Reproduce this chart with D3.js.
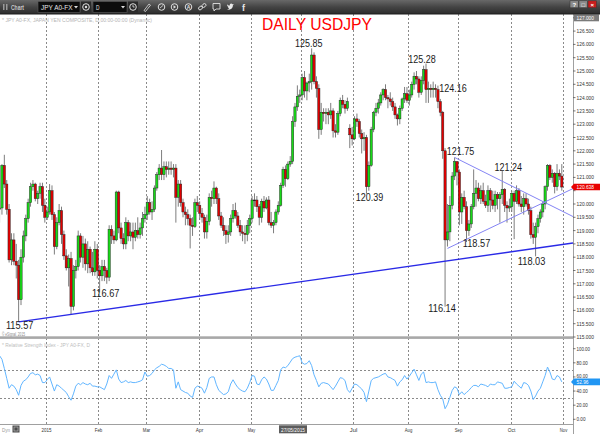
<!DOCTYPE html>
<html>
<head>
<meta charset="utf-8">
<script src="https://cdn.jsdelivr.net/npm/d3@7"></script>
<style>
  body { margin: 0; background: #fff; }
  svg { display: block; font-family: "Liberation Sans", Arial, sans-serif; }
</style>
</head>
<body>
<div id="chart"></div>
<script>
// trading days shown on the chart: Dec 3 2014 .. Oct 30 2015 (fx feed, weekdays only)
const dates = d3.timeDay.range(new Date(2014, 11, 3), new Date(2015, 9, 31))
  .filter(d => d.getDay() !== 0 && d.getDay() !== 6);

// daily USDJPY candles, grouped by month (Dec 2014 .. Oct 2015)
const opens = [
  119.2, 119.8, 119.85, 121.45, 120.75, 119.8, 117.9, 118.65, 117.85, 117.7, 116.4, 118.0, 118.8, 119.45, 120.05, 120.65, 120.75, 120.2, 120.4, 120.65, 119.95,
  119.5, 119.7, 120.5, 119.6, 118.4, 119.3, 119.75, 118.85, 118.05, 117.6, 117.95, 116.15, 117.5, 117.65, 118.8, 118.0, 118.5, 117.75, 118.3, 117.6, 117.45, 118.3,
  117.5, 117.3, 117.65, 117.5, 117.25, 119.05, 118.8, 118.65, 120.45, 119.1, 118.7, 118.5, 119.3, 118.8, 118.95, 118.75, 119.0, 118.85, 119.1, 119.45,
  119.6, 120.05, 119.7, 119.8, 120.6, 121.1, 121.35, 121.1, 121.4, 121.3, 121.35, 121.3, 121.35, 120.25, 120.75, 120.05, 119.7, 119.6, 119.45, 119.2, 119.15, 120.05,
  119.95, 119.65, 119.5, 118.95, 119.35, 120.25, 120.2, 120.6, 120.2, 119.55, 119.2, 119.0, 118.85, 118.95, 119.45, 119.75, 119.55, 119.2, 118.95, 118.9, 118.85, 119.2,
  119.45, 120.15, 120.15, 119.9, 119.5, 120.1, 119.85, 120.15, 119.3, 119.2, 119.3, 119.7, 119.95, 120.7, 121.3, 120.95, 121.5, 121.6, 123.1, 123.65, 124.05,
  124.1, 124.75, 124.25, 124.55, 124.6, 125.6, 124.6, 124.35, 122.8, 123.45, 123.4, 123.45, 123.35, 123.5, 122.75, 122.7, 123.4, 123.9, 123.75, 123.6, 122.85, 122.6,
  122.45, 123.2, 123.1, 122.65, 122.45, 122.5, 120.65, 121.45, 122.8, 123.45, 123.6, 123.8, 124.1, 124.3, 124.0, 123.95, 123.85, 123.65, 123.35, 123.2, 123.6, 123.95, 124.15,
  123.9, 124.1, 124.5, 124.8, 124.7, 124.2, 124.65, 125.05, 124.3, 124.35, 124.3, 124.35, 124.3, 123.85, 123.45, 122.0, 118.65, 118.95, 119.95, 121.05, 121.6,
  121.2, 119.7, 120.25, 119.9, 119.0, 119.25, 119.9, 120.4, 120.6, 120.2, 120.5, 120.1, 119.95, 120.5, 120.15, 119.95, 120.35, 120.2, 120.35, 120.55, 119.95, 119.85,
  119.9, 120.4, 120.1, 120.5, 120.0, 119.9, 120.2, 120.0, 119.75, 118.85, 118.75, 119.15, 119.45, 119.7, 120.0, 120.65, 121.45, 121.0, 121.15, 120.65, 121.15, 121.05
];
const highs = [
  120.0, 120.1, 121.5, 121.85, 120.9, 120.0, 118.9, 118.9, 118.5, 117.9, 118.3, 119.0, 119.6, 120.2, 120.8, 120.9, 120.8, 120.5, 120.8, 120.8, 120.2,
  119.9, 120.75, 120.7, 119.7, 119.5, 120.0, 119.9, 119.0, 118.3, 118.1, 118.2, 117.7, 117.9, 119.0, 118.9, 118.8, 118.7, 118.6, 118.4, 118.2, 118.6, 118.5,
  117.7, 117.9, 117.9, 117.6, 119.2, 119.2, 119.0, 120.5, 120.5, 119.3, 118.9, 119.5, 119.4, 119.3, 119.3, 119.3, 119.5, 119.3, 119.7, 119.9,
  120.3, 120.2, 120.1, 120.7, 121.2, 121.5, 122.03, 121.6, 121.6, 121.6, 121.6, 121.5, 121.5, 120.9, 120.9, 120.2, 119.9, 119.8, 119.6, 119.5, 120.2, 120.3,
  120.1, 119.85, 119.6, 119.6, 120.4, 120.5, 120.85, 120.65, 120.4, 119.7, 119.5, 119.2, 119.2, 119.6, 120.0, 120.05, 119.7, 119.4, 119.2, 119.2, 119.4, 119.6,
  120.3, 120.4, 120.3, 120.0, 120.2, 120.3, 120.25, 120.3, 119.7, 119.4, 119.8, 120.1, 120.8, 121.4, 121.45, 121.6, 121.8, 123.3, 123.8, 124.46, 124.3,
  124.9, 125.0, 124.6, 124.9, 125.85, 125.7, 124.8, 124.5, 123.8, 123.6, 123.6, 123.6, 123.8, 123.6, 123.0, 123.5, 124.0, 124.1, 123.9, 124.0, 123.0, 122.9,
  123.3, 123.4, 123.2, 122.8, 122.7, 122.6, 121.6, 122.9, 123.5, 123.8, 123.95, 124.2, 124.35, 124.5, 124.1, 124.2, 124.0, 123.8, 123.4, 123.7, 124.0, 124.4, 124.4,
  124.3, 124.6, 124.95, 125.0, 124.8, 124.8, 125.2, 125.28, 124.6, 124.5, 124.6, 124.5, 124.45, 123.95, 123.5, 122.1, 120.0, 120.3, 121.2, 121.75, 121.6,
  121.3, 120.4, 120.5, 120.1, 119.4, 120.0, 121.3, 120.9, 120.8, 120.7, 120.8, 120.35, 120.7, 120.6, 120.5, 120.5, 120.45, 120.45, 121.24, 120.6, 120.1, 120.2,
  120.5, 120.5, 120.7, 120.6, 120.3, 120.4, 120.4, 120.2, 119.9, 119.3, 119.3, 119.6, 119.8, 120.1, 120.7, 121.5, 121.5, 121.3, 121.2, 121.5, 121.3, 121.5
];
const lows = [
  118.9, 119.3, 119.6, 120.6, 119.6, 117.8, 117.7, 117.7, 117.2, 115.57, 116.2, 117.8, 118.6, 119.3, 119.9, 120.5, 120.1, 120.0, 120.2, 119.7, 119.3,
  119.4, 119.6, 119.4, 118.1, 118.3, 119.2, 118.5, 117.9, 117.5, 116.9, 115.86, 116.0, 117.2, 117.5, 117.8, 117.6, 117.5, 117.4, 117.4, 117.3, 117.3, 117.2,
  116.67, 117.1, 117.1, 117.0, 117.1, 118.5, 118.5, 118.6, 118.9, 118.5, 118.3, 118.3, 118.6, 118.6, 118.3, 118.6, 118.7, 118.7, 118.8, 119.3,
  119.4, 119.6, 119.4, 119.7, 120.5, 120.9, 120.9, 120.9, 121.0, 121.1, 121.1, 121.0, 119.3, 119.9, 119.9, 119.5, 119.2, 119.2, 118.33, 118.8, 119.1, 119.7,
  119.4, 119.3, 118.7, 118.7, 119.2, 119.9, 120.0, 120.0, 119.4, 119.1, 118.8, 118.5, 118.55, 118.8, 119.3, 119.45, 119.1, 118.8, 118.6, 118.5, 118.6, 118.9,
  119.3, 119.9, 119.7, 119.2, 119.3, 119.7, 119.8, 119.2, 119.1, 118.9, 119.2, 119.6, 119.9, 120.6, 120.65, 120.9, 121.4, 121.5, 122.9, 123.5, 123.8,
  123.9, 124.0, 123.9, 124.2, 124.3, 124.5, 124.0, 122.45, 122.6, 123.1, 123.0, 123.0, 123.2, 122.5, 122.5, 122.6, 123.3, 123.6, 123.4, 123.5, 122.1, 122.2,
  122.4, 122.9, 122.5, 121.9, 122.0, 120.39, 120.5, 121.4, 122.7, 123.3, 123.4, 123.7, 123.9, 123.9, 123.6, 123.7, 123.5, 123.2, 122.95, 123.0, 123.5, 123.8, 123.8,
  123.7, 124.0, 124.3, 124.5, 124.0, 124.1, 124.5, 123.8, 123.8, 124.0, 124.0, 124.0, 123.6, 123.3, 121.7, 116.14, 118.4, 118.6, 119.8, 120.9, 120.7,
  119.2, 119.25, 119.8, 118.57, 118.8, 119.1, 119.8, 119.9, 120.1, 120.0, 120.0, 119.85, 119.7, 119.7, 119.8, 119.7, 119.8, 119.3, 120.0, 119.7, 119.3, 119.7,
  119.7, 118.68, 120.0, 119.9, 119.7, 119.6, 119.9, 119.6, 118.7, 118.5, 118.03, 118.9, 119.3, 119.5, 119.8, 120.5, 120.9, 120.8, 120.4, 120.5, 120.9, 120.5
];
const closes = [
  119.8, 119.85, 121.45, 120.75, 119.8, 117.9, 118.65, 117.85, 117.7, 116.4, 118.0, 118.8, 119.45, 120.05, 120.65, 120.75, 120.2, 120.4, 120.65, 119.95, 119.5,
  119.7, 120.5, 119.6, 118.4, 119.3, 119.75, 118.85, 118.05, 117.6, 117.95, 116.15, 117.5, 117.65, 118.8, 118.0, 118.5, 117.75, 118.3, 117.6, 117.45, 118.3, 117.5,
  117.3, 117.65, 117.5, 117.25, 119.05, 118.8, 118.65, 120.45, 119.1, 118.7, 118.5, 119.3, 118.8, 118.95, 118.75, 119.0, 118.85, 119.1, 119.45, 119.6,
  120.05, 119.7, 119.8, 120.6, 121.1, 121.35, 121.1, 121.4, 121.3, 121.35, 121.3, 121.35, 120.25, 120.75, 120.05, 119.7, 119.6, 119.45, 119.2, 119.15, 120.05, 119.95,
  119.65, 119.5, 118.95, 119.35, 120.25, 120.2, 120.6, 120.2, 119.55, 119.2, 119.0, 118.85, 118.95, 119.45, 119.75, 119.55, 119.2, 118.95, 118.9, 118.85, 119.2, 119.45,
  120.15, 120.15, 119.9, 119.5, 120.1, 119.85, 120.15, 119.3, 119.2, 119.3, 119.7, 119.95, 120.7, 121.3, 120.95, 121.5, 121.6, 123.1, 123.65, 124.05, 124.1,
  124.75, 124.25, 124.55, 124.6, 125.6, 124.6, 124.35, 122.8, 123.45, 123.4, 123.45, 123.35, 123.5, 122.75, 122.7, 123.4, 123.9, 123.75, 123.6, 123.85, 122.6, 122.45,
  123.2, 123.1, 122.65, 122.45, 122.5, 120.65, 121.45, 122.8, 123.45, 123.6, 123.8, 124.1, 124.3, 124.0, 123.95, 123.85, 123.65, 123.35, 123.2, 123.6, 123.95, 124.15, 123.9,
  124.1, 124.5, 124.8, 124.7, 124.2, 124.65, 125.05, 124.3, 124.35, 124.3, 124.35, 124.3, 123.85, 123.45, 122.0, 118.65, 118.95, 119.95, 121.05, 121.6, 121.2,
  119.7, 120.25, 119.9, 119.0, 119.25, 119.9, 120.4, 120.6, 120.2, 120.5, 120.1, 119.95, 120.5, 120.15, 119.95, 120.35, 120.2, 120.35, 120.55, 119.95, 119.85, 119.9,
  120.4, 120.1, 120.5, 120.0, 119.9, 120.2, 120.0, 119.75, 118.85, 118.75, 119.15, 119.45, 119.7, 120.0, 120.65, 121.45, 121.0, 121.15, 120.65, 121.15, 121.05, 120.638
];

// relative strength index
const rsi = [
  90, 90, 85, 72, 58, 44, 49, 47, 42, 34, 48, 54, 56, 60, 65, 66, 63, 64, 62, 52, 52,
  56, 60, 50, 40, 49, 47, 44, 41, 38, 32, 27, 36, 47, 51, 49, 52, 50, 49, 51, 47, 47, 46,
  46, 44, 42, 50, 62, 58, 64, 70, 57, 52, 53, 55, 52, 53, 52, 52, 53, 54, 56, 67,
  61, 62, 65, 70, 73, 75, 78, 77, 75, 72, 72, 70, 44, 53, 42, 40, 38, 37, 33, 31, 44, 47,
  46, 44, 37, 45, 58, 60, 60, 49, 41, 38, 35, 36, 39, 50, 56, 50, 45, 42, 40, 39, 44, 52,
  62, 61, 50, 49, 56, 60, 57, 50, 41, 41, 48, 55, 70, 74, 73, 76, 81, 86, 88, 89, 90,
  80, 78, 79, 83, 76, 63, 55, 46, 51, 52, 51, 50, 46, 42, 47, 53, 59, 58, 55, 42, 38, 44,
  50, 49, 46, 43, 38, 25, 40, 55, 58, 59, 60, 62, 64, 65, 60, 59, 57, 55, 47, 53, 56, 62, 57,
  61, 66, 71, 63, 55, 64, 67, 52, 53, 52, 52, 53, 42, 34, 29, 15, 21, 31, 41, 46, 44,
  35, 39, 35, 38, 41, 45, 48, 48, 46, 50, 49, 48, 46, 50, 49, 49, 53, 52, 51, 44, 44, 45,
  46, 54, 50, 47, 44, 52, 51, 48, 40, 28, 33, 40, 44, 53, 62, 74, 67, 57, 56, 62, 60, 52.96
];

const priceTicks = d3.range(115, 127.001, 0.5);
const rsiTicks = [0, 20, 40, 60, 80, 100];
const rsiBands = [70, 30];
const monthNames = ["2015", "Feb", "Mar", "Apr", "May", "Jun", "Jul", "Aug", "Sep", "Oct", "Nov"];
const cursorDate = "27/05/2015";

// labelled swing points: [date, price]
const swings = [
  ["2014-12-16", 115.57], ["2015-02-02", 116.67], ["2015-06-05", 125.85],
  ["2015-07-08", 120.39], ["2015-08-12", 125.28], ["2015-08-19", 124.16],
  ["2015-08-24", 116.14], ["2015-08-28", 121.75], ["2015-09-04", 118.57],
  ["2015-09-25", 121.24], ["2015-10-15", 118.03]
];

// trend lines through two anchors [date, price], extended to the right edge
const trendLines = [
  [["2014-12-16", 115.57], ["2015-08-24", 117.85]],
  [["2015-08-28", 121.75], ["2015-10-15", 120.23]],
  [["2015-08-25", 118.33], ["2015-10-15", 119.91]]
];

// ============================================================
const W = 600, H = 434;
const axisX = 573;
const N = dates.length;
const fmtDay = d3.timeFormat("%Y-%m-%d");
const dayIndex = new Map(dates.map((d, i) => [fmtDay(d), i]));

const x = d3.scaleLinear().domain([0, N]).range([-4, 563]);
const y = d3.scaleLinear().domain([115, 127]).range([337, 17.8]);
const yr = d3.scaleLinear().domain([0, 100]).range([419.3, 348.7]);
const cx = i => x(i + 0.5);

const svg = d3.select("#chart").append("svg")
  .attr("width", W).attr("height", H);

const defs = svg.append("defs");
const tb = defs.append("linearGradient").attr("id", "tb")
  .attr("x1", 0).attr("y1", 0).attr("x2", 0).attr("y2", 1);
tb.append("stop").attr("offset", 0).attr("stop-color", "#686868");
tb.append("stop").attr("offset", 0.5).attr("stop-color", "#444");
tb.append("stop").attr("offset", 1).attr("stop-color", "#2c2c2c");
defs.append("clipPath").attr("id", "mainClip")
  .append("rect").attr("x", 0).attr("y", 14).attr("width", axisX).attr("height", 322);
defs.append("clipPath").attr("id", "rsiClip")
  .append("rect").attr("x", 0).attr("y", 339).attr("width", axisX).attr("height", 85);

svg.append("rect").attr("width", W).attr("height", H).attr("fill", "#fff");

// tiny condensed text helper (eSignal uses a very small narrow font)
function smallText(g, str, px, py, opts = {}) {
  const t = g.append("text")
    .attr("x", px).attr("y", py)
    .attr("font-size", opts.size || 5.6)
    .attr("fill", opts.fill || "#333")
    .attr("text-anchor", opts.anchor || "start")
    .text(str);
  if (opts.len) t.attr("textLength", opts.len).attr("lengthAdjust", "spacingAndGlyphs");
  if (opts.weight) t.attr("font-weight", opts.weight);
  return t;
}

// ---------- grid
const monthStarts = dates.map((d, i) => (i > 0 && d.getMonth() !== dates[i - 1].getMonth()) ? i : -1)
  .filter(i => i >= 0).concat([N]);

const grid = svg.append("g");
monthStarts.forEach(b => {
  const gx = Math.round(x(b)) + 0.5;
  grid.append("line")
    .attr("x1", gx).attr("x2", gx).attr("y1", 14).attr("y2", 424)
    .attr("stroke", "#8a8a8a").attr("stroke-width", 1)
    .attr("stroke-dasharray", "2,2");
});

// ---------- header texts
smallText(svg, "* JPY A0-FX, JAPAN YEN COMPOSITE, D,00:00-00:00 (Dynamic)", 2, 22,
  { fill: "#b4b4b4", size: 5.8, len: 150 });
svg.append("text")
  .attr("x", 262).attr("y", 29.5)
  .attr("font-size", 16.5).attr("fill", "#ff0000")
  .attr("textLength", 110).attr("lengthAdjust", "spacingAndGlyphs")
  .text("DAILY USDJPY");

// ---------- candles
const main = svg.append("g").attr("clip-path", "url(#mainClip)");
const idx = d3.range(N);

main.append("g").selectAll("line").data(idx).join("line")
  .attr("x1", i => cx(i)).attr("x2", i => cx(i))
  .attr("y1", i => y(highs[i])).attr("y2", i => y(lows[i]))
  .attr("stroke", "#7d7d7d").attr("stroke-width", 1);

main.append("g").selectAll("rect").data(idx).join("rect")
  .attr("x", i => cx(i) - 1.15)
  .attr("width", 2.3)
  .attr("y", i => y(Math.max(opens[i], closes[i])))
  .attr("height", i => Math.max(0.8, Math.abs(y(opens[i]) - y(closes[i]))))
  .attr("fill", i => closes[i] > opens[i] ? "#18d818" : closes[i] < opens[i] ? "#e00000" : "#000")
  .attr("stroke", "#222").attr("stroke-width", 0.45);

// ---------- trend lines
const lineStyles = [
  { color: "#2a2ae6", width: 1.4 },
  { color: "#8484f4", width: 1 },
  { color: "#8484f4", width: 1 }
];
trendLines.forEach((tl, k) => {
  const [a, b] = tl;
  const x1 = cx(dayIndex.get(a[0])), y1 = y(a[1]);
  const x2 = cx(dayIndex.get(b[0])), y2 = y(b[1]);
  const slope = (y2 - y1) / (x2 - x1);
  main.append("line")
    .attr("x1", x1).attr("y1", y1)
    .attr("x2", axisX).attr("y2", y1 + slope * (axisX - x1))
    .attr("stroke", lineStyles[k].color)
    .attr("stroke-width", lineStyles[k].width);
});

// ---------- swing labels
const swingPlace = {
  "115.57": [1, 7.5], "116.67": [6, 4.5], "125.85": [-3, -1.5],
  "120.39": [3, 7.5], "125.28": [-4, -0.5], "124.16": [15, -1],
  "116.14": [-3, 5.5], "121.75": [6, -2.5], "118.57": [10, 5],
  "121.24": [6, 0], "118.03": [-4, 8.5]
};
main.append("g").selectAll("text").data(swings).join("text")
  .attr("x", d => cx(dayIndex.get(d[0])) + swingPlace[d[1].toFixed(2)][0])
  .attr("y", d => y(d[1]) + swingPlace[d[1].toFixed(2)][1])
  .attr("text-anchor", "middle")
  .attr("font-size", 10).attr("fill", "#1a1a1a")
  .attr("textLength", 27.5).attr("lengthAdjust", "spacingAndGlyphs")
  .text(d => d[1].toFixed(2));

smallText(svg, "\u00a9 eSignal, 2015", 2, 336, { fill: "#8a8a8a", size: 4.6, len: 23 });

// ---------- panel separator & frame
svg.append("rect").attr("x", 0).attr("y", 336.3).attr("width", axisX).attr("height", 2.6).attr("fill", "#a8a8a8");
svg.append("line").attr("x1", 0).attr("x2", axisX).attr("y1", 424.5).attr("y2", 424.5)
  .attr("stroke", "#a0a0a0");
svg.append("line").attr("x1", axisX + 0.5).attr("x2", axisX + 0.5).attr("y1", 14).attr("y2", 434)
  .attr("stroke", "#a0a0a0");

// ---------- RSI pane
smallText(svg, "* Relative Strength Index - JPY A0-FX, D", 2, 347, { fill: "#bdbdbd", size: 5.6, len: 88 });
const rsiG = svg.append("g").attr("clip-path", "url(#rsiClip)");
rsiBands.forEach(v => {
  rsiG.append("line")
    .attr("x1", 0).attr("x2", axisX)
    .attr("y1", Math.round(yr(v)) + 0.5).attr("y2", Math.round(yr(v)) + 0.5)
    .attr("stroke", "#8a8a8a").attr("stroke-dasharray", "2,2");
});
rsiG.append("path")
  .datum(idx)
  .attr("fill", "none")
  .attr("stroke", "#62b6ff").attr("stroke-width", 1)
  .attr("d", d3.line().x(i => cx(i)).y(i => yr(rsi[i])));

// ---------- right price axis
const axisG = svg.append("g");
const lastY = y(closes[N - 1]);
const lastR = yr(rsi[N - 1]);
priceTicks.forEach(p => {
  const ty = y(p);
  axisG.append("line").attr("x1", axisX).attr("x2", axisX + 2.5)
    .attr("y1", ty).attr("y2", ty).attr("stroke", "#555").attr("stroke-width", 0.8);
  if (Math.abs(ty - lastY) > 6 && p < 127) smallText(axisG, p.toFixed(3), axisX + 3.5, ty + 2, { len: 17.5 });
});
rsiTicks.forEach(v => {
  const ty = yr(v);
  axisG.append("line").attr("x1", axisX).attr("x2", axisX + 2.5)
    .attr("y1", ty).attr("y2", ty).attr("stroke", "#555").attr("stroke-width", 0.8);
  const s = v.toFixed(2);
  smallText(axisG, s, axisX + 3.5, ty + (Math.abs(ty - lastR) < 7 ? 0.6 : 2), { len: s.length * 2.25 });
});

// top axis label box
axisG.append("rect").attr("x", axisX + 1).attr("y", 14.3).attr("width", 25).attr("height", 7)
  .attr("fill", "#7a7a7a");
smallText(axisG, "127.000", axisX + 3.5, 19.8, { len: 17.5, fill: "#fff" });

// last value markers
function marker(vy, color, label, len) {
  axisG.append("path")
    .attr("d", `M${axisX - 2},${vy} L${axisX + 1},${vy - 3.3} L${W},${vy - 3.3} L${W},${vy + 3.3} L${axisX + 1},${vy + 3.3} Z`)
    .attr("fill", color);
  smallText(axisG, label, axisX + 3.5, vy + 2, { len, fill: "#fff", size: 5.2 });
}
marker(lastY, "#e80000", closes[N - 1].toFixed(3), 17.5);
marker(lastR, "#2196f3", rsi[N - 1].toFixed(2), 12);

// ---------- bottom date axis
const dateAxis = svg.append("g");
const cursorBox = [279, 307];
monthStarts.forEach((b, k) => {
  const mx = Math.round(x(b)) + 0.5;
  if (mx > cursorBox[0] - 4 && mx < cursorBox[1] + 4) return; // hidden under the cursor date box
  smallText(dateAxis, monthNames[k], mx, 431.5,
    { anchor: "middle", len: monthNames[k].length * 2.5 });
});
smallText(dateAxis, "Dyn", 2, 431.5, { fill: "#9a9a9a", len: 8 });
dateAxis.append("rect").attr("x", 12.5).attr("y", 425.5).attr("width", 7).attr("height", 7).attr("fill", "#4a4a4a");
dateAxis.append("rect").attr("x", 14).attr("y", 427).attr("width", 4).attr("height", 4)
  .attr("fill", "none").attr("stroke", "#ccc").attr("stroke-width", 0.6);
dateAxis.append("rect").attr("x", cursorBox[0]).attr("y", 425.3).attr("width", cursorBox[1] - cursorBox[0]).attr("height", 8)
  .attr("fill", "#5c5c5c");
smallText(dateAxis, cursorDate, cursorBox[0] + 2, 431.5, { fill: "#fff", len: 24 });

// ---------- toolbar
const bar = svg.append("g");
bar.append("rect").attr("width", W).attr("height", 14).attr("fill", "url(#tb)");
bar.append("line").attr("x1", 0).attr("x2", W).attr("y1", 14).attr("y2", 14).attr("stroke", "#1c1c1c");
bar.append("rect").attr("x", 3).attr("y", 4).attr("width", 1.5).attr("height", 6).attr("fill", "#9a9a9a");
bar.append("rect").attr("x", 6).attr("y", 4).attr("width", 1.5).attr("height", 6).attr("fill", "#9a9a9a");
smallText(bar, "Chart", 11, 9.5, { fill: "#c8c8c8", size: 7, len: 13, weight: "bold" });

function inputBox(bx, bw, label) {
  bar.append("rect").attr("x", bx).attr("y", 1.5).attr("width", bw).attr("height", 11)
    .attr("fill", "#0c0c0c").attr("stroke", "#5a5a5a").attr("stroke-width", 0.6);
  smallText(bar, label, bx + 3, 9.8, { fill: "#e6e6e6", size: 7, len: label.length * 3.5 });
  bar.append("path")
    .attr("d", `M${bx + bw - 6},6 L${bx + bw - 2},6 L${bx + bw - 4},8.5 Z`)
    .attr("fill", "#ddd");
}
inputBox(38, 42, "JPY A0-FX");
inputBox(93, 34, "D");

function roundIcon(ix, inner) {
  bar.append("circle").attr("cx", ix).attr("cy", 7).attr("r", 3.3)
    .attr("fill", "none").attr("stroke", "#e0e0e0").attr("stroke-width", 1);
  if (inner) inner(ix);
}
bar.append("rect").attr("x", 81).attr("y", 1.5).attr("width", 10).attr("height", 11).attr("fill", "#2a2a2a");
roundIcon(86, ix => bar.append("circle").attr("cx", ix).attr("cy", 7).attr("r", 1.2).attr("fill", "#e0e0e0"));
bar.append("rect").attr("x", 128).attr("y", 1.5).attr("width", 10).attr("height", 11).attr("fill", "#2a2a2a");
roundIcon(133, ix => bar.append("path").attr("d", `M${ix},5 L${ix},7 L${ix + 1.6},7`)
  .attr("stroke", "#e0e0e0").attr("fill", "none").attr("stroke-width", 0.8));
// pencil
bar.append("path").attr("d", "M144,10.5 L149,4 L150.5,5.2 L145.5,11.5 Z")
  .attr("fill", "none").attr("stroke", "#e0e0e0").attr("stroke-width", 0.8);
roundIcon(161.5, ix => bar.append("path").attr("d", `M${ix - 1.5},8 L${ix + 1.5},5.5`)
  .attr("stroke", "#e0e0e0").attr("stroke-width", 0.8));
roundIcon(174.5, ix => bar.append("path").attr("d", `M${ix - 1},5.3 L${ix + 1.6},7 L${ix - 1},8.7 Z`).attr("fill", "#e0e0e0"));
roundIcon(188.5, ix => smallText(bar, "A", ix, 9, { anchor: "middle", size: 5, fill: "#e0e0e0", weight: "bold" }));
// link
bar.append("ellipse").attr("cx", 200.5).attr("cy", 8).attr("rx", 2.2).attr("ry", 1.6)
  .attr("transform", "rotate(-40 200.5 8)").attr("fill", "none").attr("stroke", "#e0e0e0").attr("stroke-width", 0.9);
bar.append("ellipse").attr("cx", 204).attr("cy", 5.5).attr("rx", 2.2).attr("ry", 1.6)
  .attr("transform", "rotate(-40 204 5.5)").attr("fill", "none").attr("stroke", "#e0e0e0").attr("stroke-width", 0.9);
// message
bar.append("path").attr("d", "M213,3.5 L220,3.5 L220,9 L216,9 L214,11 L214,9 L213,9 Z")
  .attr("fill", "none").attr("stroke", "#e0e0e0").attr("stroke-width", 0.9);
// twitter bird
bar.append("path").attr("d", "M227,9 C229,10.5 233,9.5 233,5 L234,4 L232.5,4.2 C231.5,3 229.5,3.5 229.8,5.6 C228.5,5.5 227.8,5 227.2,4.3 C226.9,5.5 227.5,6.5 228.2,6.8 C227.8,7.5 228.5,8.2 229.2,8.4 C228.5,8.9 227.8,9 227,9 Z")
  .attr("fill", "#e8e8e8");
smallText(bar, "f", 242, 11, { size: 9, fill: "#e8e8e8", weight: "bold" });

// window buttons
[[570, "#8a8a8a", "?"], [579, "#8a8a8a", "\u25a1"], [588, "#c81e1e", "\u00d7"]].forEach(([bx, col, s]) => {
  bar.append("rect").attr("x", bx).attr("y", 0.8).attr("width", 8.5).attr("height", 7)
    .attr("fill", col).attr("stroke", "#333").attr("stroke-width", 0.5);
  smallText(bar, s, bx + 4.25, 6.5, { anchor: "middle", size: 6, fill: "#fff", weight: "bold" });
});
</script>
</body>
</html>
